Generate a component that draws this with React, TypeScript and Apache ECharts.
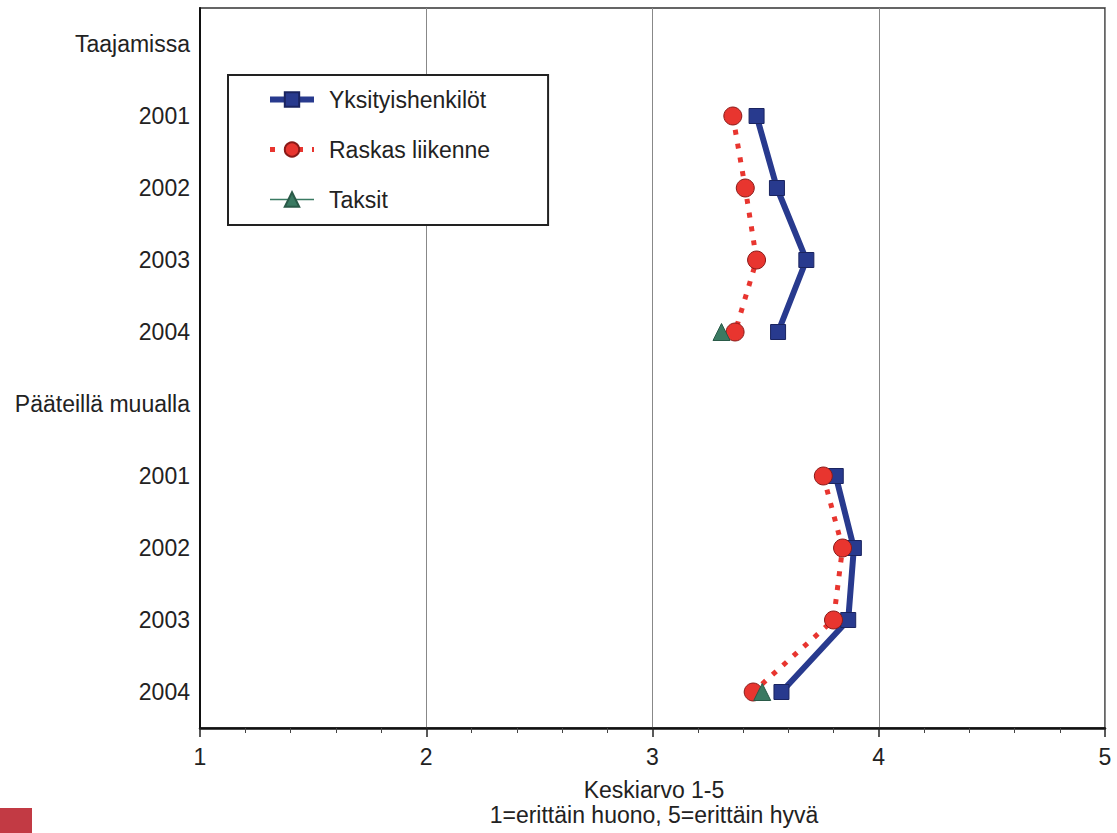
import React, { useEffect, useRef } from "react";
import * as echarts from "echarts";

const categories = ["Taajamissa", "2001", "2002", "2003", "2004", "Pääteillä muualla", "2001", "2002", "2003", "2004"];
const yksityishenkilot = [null, 3.46, 3.55, 3.68, 3.555, null, 3.81, 3.89, 3.865, 3.57];
const raskasLiikenne = [null, 3.355, 3.41, 3.46, 3.365, null, 3.755, 3.84, 3.8, 3.445];
const taksit = [null, null, null, null, 3.305, null, null, null, null, 3.485];
const xTicks = [1, 2, 3, 4, 5];
const axisTitle = ["Keskiarvo 1-5", "1=erittäin huono, 5=erittäin hyvä"];

const FONT = "Liberation Sans, Arial, sans-serif";
const FS = 23;

export default function App() {
  const ref = useRef<HTMLDivElement>(null);
  useEffect(() => {
    if (!ref.current) return;
    const chart = echarts.init(ref.current, null, { renderer: "svg" });
    chart.setOption({
      animation: false,
      backgroundColor: "#ffffff",
      textStyle: { fontFamily: FONT },
      grid: {
        left: 200,
        right: 12,
        top: 8,
        bottom: 105,
        show: true,
        borderColor: "#333",
        borderWidth: 1.5,
        containLabel: false,
      },
      legend: {
        orient: "vertical",
        left: 228,
        top: 75,
        backgroundColor: "#fff",
        borderColor: "#222",
        borderWidth: 2,
        padding: [13, 58, 14, 39],
        itemWidth: 44,
        itemHeight: 18,
        itemGap: 27,
        lineStyle: { width: "inherit" },
        textStyle: { fontSize: FS, color: "#222", fontFamily: FONT, padding: [0, 0, 0, 10] },
        data: ["Yksityishenkilöt", "Raskas liikenne", "Taksit"],
      },
      xAxis: {
        type: "value",
        min: xTicks[0],
        max: xTicks[xTicks.length - 1],
        interval: 1,
        axisLine: { show: true, onZero: false, lineStyle: { color: "#111", width: 2.5 } },
        axisTick: { show: true, length: 9, lineStyle: { color: "#222", width: 1.5 } },
        minorTick: { show: true, splitNumber: 5, length: 5, lineStyle: { color: "#444", width: 1 } },
        axisLabel: { fontSize: FS, color: "#222", margin: 17, fontFamily: FONT },
        splitLine: { show: true, lineStyle: { color: "#888", width: 1 } },
      },
      yAxis: {
        type: "category",
        inverse: true,
        data: categories,
        boundaryGap: true,
        axisLine: { show: true, lineStyle: { color: "#111", width: 2 } },
        axisTick: { show: false },
        axisLabel: { fontSize: FS, color: "#222", margin: 10, fontFamily: FONT },
        splitLine: { show: false },
      },
      series: [
        {
          name: "Yksityishenkilöt",
          type: "line",
          data: yksityishenkilot,
          connectNulls: false,
          symbol: "rect",
          symbolSize: 15,
          color: "#283a8e",
          lineStyle: { color: "#283a8e", width: 6 },
          itemStyle: { color: "#283a8e", borderColor: "#1a2460", borderWidth: 1 },
          z: 2,
        },
        {
          name: "Raskas liikenne",
          type: "line",
          data: raskasLiikenne,
          connectNulls: false,
          symbol: "circle",
          symbolSize: 18,
          color: "#e8352f",
          lineStyle: { color: "#e8352f", width: 5, type: [5, 9] },
          itemStyle: { color: "#e8352f", borderColor: "#8a1a18", borderWidth: 1 },
          z: 3,
        },
        {
          name: "Taksit",
          type: "line",
          data: taksit,
          connectNulls: false,
          symbol: "triangle",
          symbolSize: 17,
          color: "#3a7a62",
          lineStyle: { color: "#3a7a62", width: 1.5 },
          itemStyle: { color: "#3a7a62", borderColor: "#2a5a48", borderWidth: 1 },
          z: 4,
        },
      ],
      graphic: [
        {
          type: "text",
          x: 654,
          y: 790,
          style: {
            text: axisTitle[0],
            fontSize: FS,
            fill: "#222",
            fontFamily: FONT,
            align: "center",
            verticalAlign: "middle",
          },
        },
        {
          type: "text",
          x: 654,
          y: 815,
          style: {
            text: axisTitle[1],
            fontSize: FS,
            fill: "#222",
            fontFamily: FONT,
            align: "center",
            verticalAlign: "middle",
          },
        },
        {
          type: "rect",
          x: 0,
          y: 808,
          shape: { width: 32, height: 25 },
          style: { fill: "#c23a44" },
        },
      ],
    });
    return () => chart.dispose();
  }, []);
  return <div ref={ref} style={{ width: 1117, height: 833, position: "absolute", left: 0, top: 0 }} />;
}
